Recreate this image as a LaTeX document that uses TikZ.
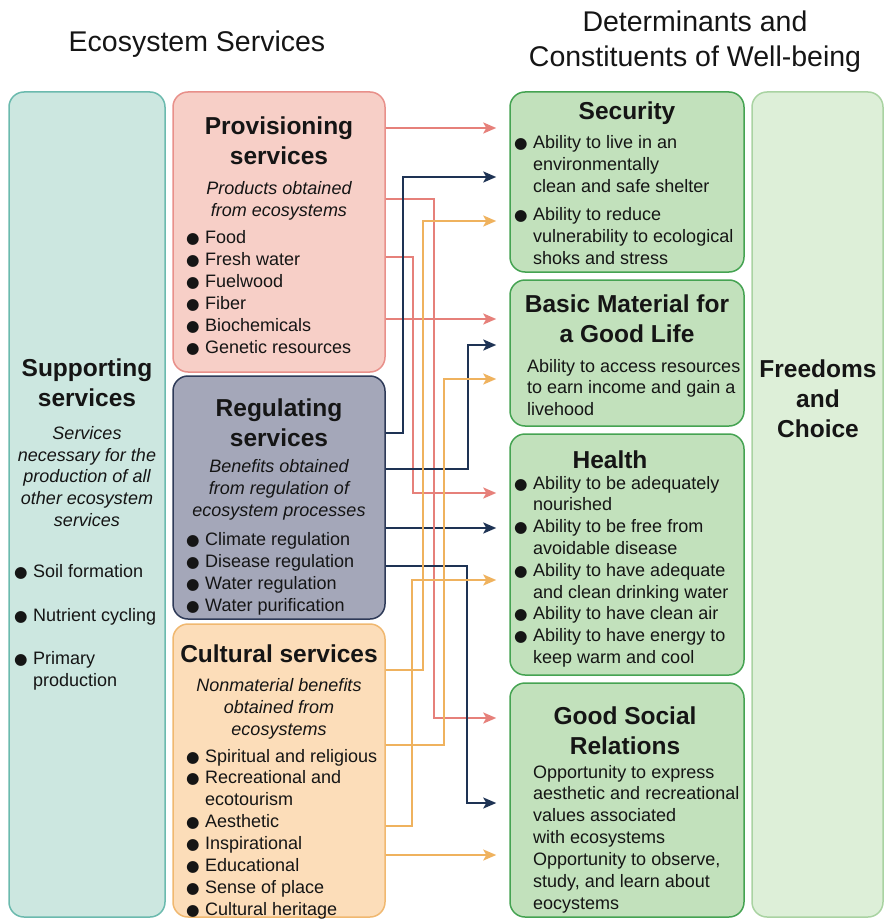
\documentclass[tikz,border=0pt]{standalone}
\usepackage{fontspec}
\setmainfont{Liberation Sans}
\newfontfamily\symfont{DejaVu Sans}
\usetikzlibrary{arrows.meta}

\definecolor{suppfill}{HTML}{CCE7E0}
\definecolor{suppdraw}{HTML}{6BBAAE}
\definecolor{provfill}{HTML}{F7CFC7}
\definecolor{provdraw}{HTML}{E8908A}
\definecolor{regufill}{HTML}{A4A7B9}
\definecolor{regudraw}{HTML}{2E3A58}
\definecolor{cultfill}{HTML}{FCDDB9}
\definecolor{cultdraw}{HTML}{F0B870}
\definecolor{wellfill}{HTML}{C2E1BC}
\definecolor{welldraw}{HTML}{45A352}
\definecolor{freefill}{HTML}{DDEFD8}
\definecolor{freedraw}{HTML}{A9D3A2}
\definecolor{pinkln}{HTML}{E6807A}
\definecolor{navyln}{HTML}{1E3354}
\definecolor{orangeln}{HTML}{EFB25E}
\definecolor{ink}{HTML}{151515}

\newcommand{\bul}{\makebox[19pt][l]{{\symfont\fontsize{15.5}{15}\selectfont ●}}}
\newcommand{\ind}{\hspace*{19pt}}

\begin{document}
\begin{tikzpicture}[x=1pt, y=-1pt,
    box/.style={draw, rounded corners=15pt, line width=1.5pt},
    ttl/.style={font=\fontsize{24.5}{30}\selectfont\bfseries, text=ink, align=center, anchor=base, inner sep=0pt},
    sub/.style={font=\fontsize{18}{21.8}\selectfont\itshape, text=ink, align=center, anchor=base, inner sep=0pt},
    lst/.style={font=\fontsize{18}{22}\selectfont, text=ink, align=left, anchor=base west, inner sep=0pt},
    hdr/.style={font=\fontsize{28.5}{35}\selectfont, text=ink, align=center, anchor=base, inner sep=0pt},
    link/.style={line width=2pt, -{Stealth[length=13pt,width=11pt,inset=3pt]}, shorten >=13pt}]
    \useasboundingbox (0,0) rectangle (885,920);

    % headings (y = baseline of the last line)
    \node[hdr] (eshead) at (197,52) {Ecosystem Services};
    \node[hdr] (wbhead) at (695,67) {Determinants and\\Constituents of Well-being};

    % boxes
    \node[box, fill=suppfill, draw=suppdraw, minimum width=156, minimum height=825] (supp) at (87,504.5) {};
    \node[box, fill=provfill, draw=provdraw, minimum width=212, minimum height=280] (prov) at (279,232) {};
    \node[box, fill=regufill, draw=regudraw, minimum width=212, minimum height=243] (regu) at (279,497.5) {};
    \node[box, fill=cultfill, draw=cultdraw, minimum width=212, minimum height=293] (cult) at (279,770.5) {};
    \node[box, fill=wellfill, draw=welldraw, minimum width=234, minimum height=180] (secu) at (627,182) {};
    \node[box, fill=wellfill, draw=welldraw, minimum width=234, minimum height=146] (basic) at (627,353) {};
    \node[box, fill=wellfill, draw=welldraw, minimum width=234, minimum height=241] (health) at (627,554.5) {};
    \node[box, fill=wellfill, draw=welldraw, minimum width=234, minimum height=234] (social) at (627,800) {};
    \node[box, fill=freefill, draw=freedraw, minimum width=131, minimum height=825] (freedom) at (817.5,504.5) {};

    % supporting
    \node[ttl] (supp-t) at (87,406) {Supporting\\services};
    \node[sub] (supp-s) at (87,526.5) {Services\\necessary for the\\production of all\\other ecosystem\\services};
    \node[lst, font=\fontsize{18}{21.7}\selectfont] (supp-l) at (14,686.6) {\bul Soil formation\\[22pt]\bul Nutrient cycling\\[22pt]\bul Primary\\\ind production};

    % provisioning
    \node[ttl] (prov-t) at (279,165) {Provisioning\\services};
    \node[sub] (prov-s) at (279,216.5) {Products obtained\\from ecosystems};
    \node[lst] (prov-l) at (186,353) {\bul Food\\\bul Fresh water\\\bul Fuelwood\\\bul Fiber\\\bul Biochemicals\\\bul Genetic resources};

    % regulating
    \node[ttl] (regu-t) at (279,446) {Regulating\\services};
    \node[sub] (regu-s) at (279,516) {Benefits obtained\\from regulation of\\ecosystem processes};
    \node[lst] (regu-l) at (186,611) {\bul Climate regulation\\\bul Disease regulation\\\bul Water regulation\\\bul Water purification};

    % cultural
    \node[ttl] (cult-t) at (279,662) {Cultural services};
    \node[sub] (cult-s) at (279,735) {Nonmaterial benefits\\obtained from\\ecosystems};
    \node[lst, font=\fontsize{18}{21.9}\selectfont] (cult-l) at (186,915.3) {\bul Spiritual and religious\\\bul Recreational and\\\ind ecotourism\\\bul Aesthetic\\\bul Inspirational\\\bul Educational\\\bul Sense of place\\\bul Cultural heritage};

    % well-being
    \node[ttl] (secu-t) at (627,120) {Security};
    \node[lst] (secu-l) at (514,264) {\bul Ability to live in an\\\ind environmentally\\\ind clean and safe shelter\\[6pt]\bul Ability to reduce\\\ind vulnerability to ecological\\\ind shoks and stress};
    \node[ttl] (basic-t) at (627,342) {Basic Material for\\a Good Life};
    \node[lst, font=\fontsize{18}{21.7}\selectfont] (basic-l) at (527,415.4) {Ability to access resources\\to earn income and gain a\\livehood};
    \node[ttl] (health-t) at (610,468) {Health};
    \node[lst, font=\fontsize{18}{21.8}\selectfont] (health-l) at (514,663.4) {\bul Ability to be adequately\\\ind nourished\\\bul Ability to be free from\\\ind avoidable disease\\\bul Ability to have adequate\\\ind and clean drinking water\\\bul Ability to have clean air\\\bul Ability to have energy to\\\ind keep warm and cool};
    \node[ttl] (social-t) at (625,754) {Good Social\\Relations};
    \node[lst, font=\fontsize{18}{21.9}\selectfont] (social-l) at (533,909.4) {Opportunity to express\\aesthetic and recreational\\values associated\\with ecosystems\\Opportunity to observe,\\study, and learn about\\eocystems};
    \node[ttl] (freedom-t) at (818,437) {Freedoms\\and\\Choice};

    % links
    \draw[link, pinkln] (prov.east |- 0,128) -- (secu.west |- 0,128);
    \draw[link, pinkln] (prov.east |- 0,319) -- (basic.west |- 0,319);
    \draw[link, navyln] (regu.east |- 0,528) -- (health.west |- 0,528);
    \draw[link, orangeln] (cult.east |- 0,855) -- (social.west |- 0,855);
    \draw[link, pinkln] (prov.east |- 0,199) -- ++(48,0) |- (social.west |- 0,718);
    \draw[link, pinkln] (prov.east |- 0,257) -- ++(27,0) |- (health.west |- 0,493);
    \draw[link, navyln] (regu.east |- 0,433) -- ++(17,0) |- (secu.west |- 0,177);
    \draw[link, navyln] (regu.east |- 0,469) -- ++(82,0) |- (basic.west |- 0,345);
    \draw[link, navyln] (regu.east |- 0,566) -- ++(81,0) |- (social.west |- 0,803);
    \draw[link, orangeln] (cult.east |- 0,670) -- ++(37,0) |- (secu.west |- 0,221);
    \draw[link, orangeln] (cult.east |- 0,745) -- ++(58,0) |- (basic.west |- 0,379);
    \draw[link, orangeln] (cult.east |- 0,826) -- ++(26,0) |- (health.west |- 0,580);

\end{tikzpicture}
\end{document}
